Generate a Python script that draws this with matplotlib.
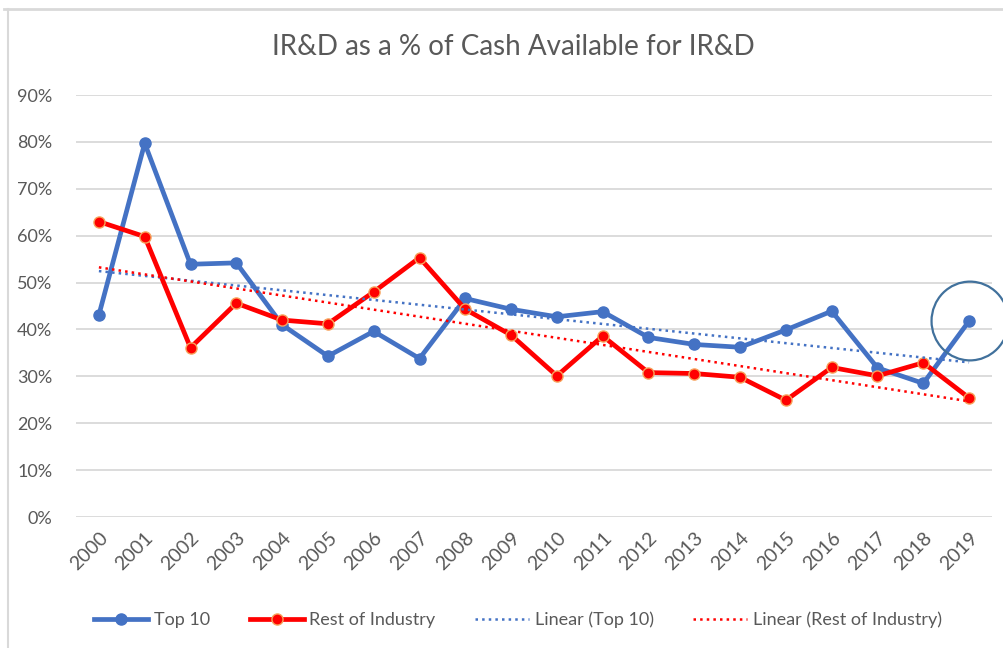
import numpy as np
from matplotlib import pyplot as plt
from matplotlib.lines import Line2D
from matplotlib.patches import Ellipse

years = [str(y) for y in range(2000, 2020)]
top10 = [43.1, 79.7, 53.9, 54.2, 41.0, 34.3, 39.6, 33.8, 46.6, 44.3,
         42.7, 43.8, 38.3, 36.8, 36.2, 39.9, 43.9, 31.8, 28.5, 41.8]
rest = [63.0, 59.8, 36.1, 45.6, 42.0, 41.2, 48.0, 55.3, 44.3, 38.8,
        30.1, 38.6, 30.8, 30.6, 29.8, 24.9, 31.9, 30.1, 32.9, 25.4]
yticks = [0, 10, 20, 30, 40, 50, 60, 70, 80, 90]

BLUE = "#4472C4"
RED = "#FF0000"
GREY = "#595959"
GRID = "#D9D9D9"


def main():
    plt.rcParams['font.family'] = ['Lato', 'DejaVu Sans']
    fig = plt.figure(figsize=(10.04, 6.48), dpi=100)
    ax = fig.add_axes([76 / 1004, 1 - 517 / 648, 916 / 1004, 422 / 648])

    x = np.arange(len(years))
    t = np.array(top10) / 100
    r = np.array(rest) / 100

    ax.plot(x, t, color=BLUE, linewidth=3.4, marker='o', markersize=8,
            markerfacecolor=BLUE, markeredgecolor=BLUE, zorder=3, label="Top 10")
    ax.plot(x, r, color=RED, linewidth=3.4, marker='o', markersize=8,
            markerfacecolor=RED, markeredgecolor="#F7A35C", markeredgewidth=1,
            zorder=4, label="Rest of Industry")

    # linear trendlines
    ft = np.polyfit(x, t, 1)
    fr = np.polyfit(x, r, 1)
    ax.plot(x, np.polyval(ft, x), color=BLUE, linestyle=':', linewidth=1.8,
            zorder=5, label="Linear (Top 10)")
    ax.plot(x, np.polyval(fr, x), color=RED, linestyle=':', linewidth=1.8,
            zorder=5, label="Linear (Rest of Industry)")

    # highlight circle around last point
    ax.add_patch(Ellipse((x[-1] + 0.02, t[-1]), 1.68, 0.168, fill=False,
                         edgecolor="#41719C", linewidth=1.6, zorder=6,
                         clip_on=False))

    ax.set_xlim(-0.5, len(years) - 0.5)
    ax.set_ylim(0, 0.9)
    ax.set_yticks([v / 100 for v in yticks])
    ax.set_yticklabels([f"{v}%" for v in yticks])
    ax.set_xticks(x)
    ax.set_xticklabels(years, rotation=45, ha='right', va='top',
                       rotation_mode='anchor')
    ax.tick_params(axis='both', length=0, labelcolor=GREY)
    ax.tick_params(axis='y', pad=17, labelsize=13)
    ax.tick_params(axis='x', pad=9, labelsize=14)
    ax.grid(axis='y', color=GRID, linewidth=1.3)
    ax.set_axisbelow(True)
    for s in ax.spines.values():
        s.set_visible(False)

    fig.text(513 / 1004, 1 - 47 / 648, "IR&D as a % of Cash Available for IR&D",
             ha='center', va='center', fontsize=20, color=GREY)

    # chart border and clipped caption above
    fig.add_artist(Line2D([4 / 1004, 1], [1 - 9 / 648] * 2, color=GRID,
                          linewidth=2, transform=fig.transFigure))
    fig.add_artist(Line2D([8 / 1004] * 2, [0, 1 - 9 / 648], color=GRID,
                          linewidth=1.5, transform=fig.transFigure))
    fig.text(600 / 1004, 1 + 8 / 648, "g", ha='center', va='baseline',
             fontsize=14, fontweight='bold', color='black')

    handles = [
        Line2D([], [], color=BLUE, linewidth=3.4, marker='o', markersize=8),
        Line2D([], [], color=RED, linewidth=3.4, marker='o', markersize=8,
               markeredgecolor="#F7A35C"),
        Line2D([], [], color=BLUE, linestyle=':', linewidth=1.8),
        Line2D([], [], color=RED, linestyle=':', linewidth=1.8),
    ]
    labels = ["Top 10", "Rest of Industry", "Linear (Top 10)",
              "Linear (Rest of Industry)"]
    leg = fig.legend(handles, labels, loc='center', ncol=4, frameon=False,
                     bbox_to_anchor=(518 / 1004, 1 - 620 / 648),
                     fontsize=13, handlelength=3.0, columnspacing=2.2,
                     handletextpad=0.3)
    for txt in leg.get_texts():
        txt.set_color(GREY)

    plt.savefig("out.png", dpi=100)
    plt.close()


if __name__ == "__main__":
    main()
